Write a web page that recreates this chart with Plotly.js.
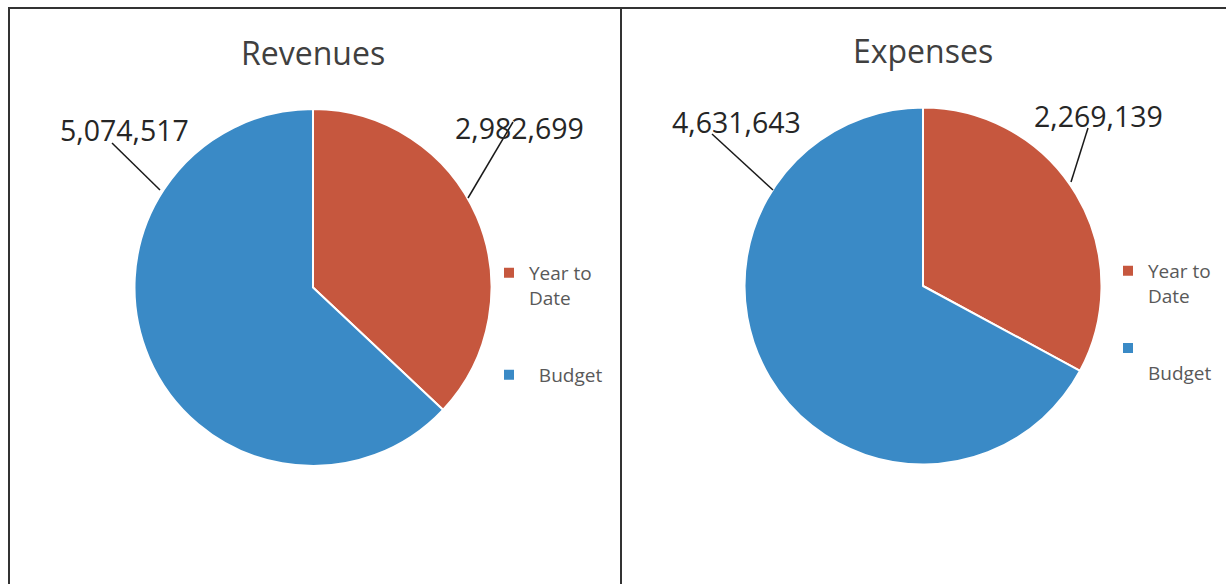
<!DOCTYPE html>
<html>
<head>
<meta charset="utf-8">
<script src="https://cdn.plot.ly/plotly-3.0.1.min.js"></script>
<style>html,body{margin:0;padding:0;background:#fff;}#chart{width:1226px;height:584px;}</style>
</head>
<body>
<div id="chart"></div>
<script>
// ---- data ----
var chartTitles = ["Revenues", "Expenses"];
var categories = ["Year to Date", "Budget"];
var revenueValues = [2982699, 5074517];
var expenseValues = [2269139, 4631643];
var sliceColors = ["#C6573E", "#3A8AC6"];

var W = 1226, H = 584;
function px(x) { return x / W; }
function py(y) { return 1 - y / H; }
function fmt(v) { return v.toLocaleString('en-US'); }

// legend label text (wrapping as in the reference)
var leftLegendLabels = ["Year to<br>Date<br>\u00a0<br>\u00a0", "\u00a0\u00a0Budget"];
var rightLegendLabels = ["Year to<br>Date<br>\u00a0", "\u00a0<br>Budget"];

var common = {
  type: 'pie', sort: false, direction: 'clockwise', rotation: 0,
  textinfo: 'none', hoverinfo: 'label+value',
  marker: {colors: sliceColors, line: {color: '#ffffff', width: 2}}
};

var traces = [
  Object.assign({}, common, {
    labels: leftLegendLabels, values: revenueValues, legend: 'legend',
    domain: {x: [px(134.5), px(491.5)], y: [py(466), py(109)]}
  }),
  Object.assign({}, common, {
    labels: rightLegendLabels, values: expenseValues, legend: 'legend2',
    domain: {x: [px(744.5), px(1101.5)], y: [py(464.5), py(107.5)]}
  })
];

var labelFont = {family: 'Open Sans, sans-serif', size: 28.5, color: '#262626'};
var titleFont = {family: 'Open Sans, sans-serif', size: 32, color: '#404040'};

var annotations = [
  {text: chartTitles[0], x: px(313), y: py(52), xref: 'paper', yref: 'paper', showarrow: false, font: titleFont, xanchor: 'center', yanchor: 'middle'},
  {text: chartTitles[1], x: px(923), y: py(51), xref: 'paper', yref: 'paper', showarrow: false, font: titleFont, xanchor: 'center', yanchor: 'middle'},
  {text: fmt(revenueValues[1]), x: px(124), y: py(130), xref: 'paper', yref: 'paper', showarrow: false, font: labelFont, xanchor: 'center', yanchor: 'middle'},
  {text: fmt(revenueValues[0]), x: px(519), y: py(128), xref: 'paper', yref: 'paper', showarrow: false, font: labelFont, xanchor: 'center', yanchor: 'middle'},
  {text: fmt(expenseValues[1]), x: px(736), y: py(122), xref: 'paper', yref: 'paper', showarrow: false, font: labelFont, xanchor: 'center', yanchor: 'middle'},
  {text: fmt(expenseValues[0]), x: px(1098), y: py(116), xref: 'paper', yref: 'paper', showarrow: false, font: labelFont, xanchor: 'center', yanchor: 'middle'}
];

var lineStyle = {color: '#1a1a1a', width: 1.5};
var frameStyle = {color: '#333333', width: 2};
function seg(x0, y0, x1, y1, st) {
  return {type: 'line', xref: 'paper', yref: 'paper', x0: px(x0), y0: py(y0), x1: px(x1), y1: py(y1), line: st};
}
var shapes = [
  // frame
  seg(8, 8, 1226, 8, frameStyle),
  seg(9, 8, 9, 584, frameStyle),
  seg(621, 8, 621, 584, frameStyle),
  // leader lines
  seg(112, 143, 160, 190, lineStyle),
  seg(513, 122, 468, 198, lineStyle),
  seg(712, 134, 773, 190, lineStyle),
  seg(1088, 128, 1071, 182, lineStyle)
];

var legendFont = {family: 'Open Sans, sans-serif', size: 19, color: '#595959'};

var layout = {
  width: W, height: H,
  margin: {l: 0, r: 0, t: 0, b: 0},
  paper_bgcolor: '#ffffff',
  showlegend: true,
  legend: {x: px(489), y: py(254), xanchor: 'left', yanchor: 'top', font: legendFont, valign: 'top', itemwidth: 30, bgcolor: 'rgba(0,0,0,0)', tracegroupgap: 0},
  legend2: {x: px(1108), y: py(252), xanchor: 'left', yanchor: 'top', font: legendFont, valign: 'top', itemwidth: 30, bgcolor: 'rgba(0,0,0,0)', tracegroupgap: 0},
  annotations: annotations,
  shapes: shapes
};

Plotly.newPlot('chart', traces, layout, {displayModeBar: false, staticPlot: true});
</script>
</body>
</html>
